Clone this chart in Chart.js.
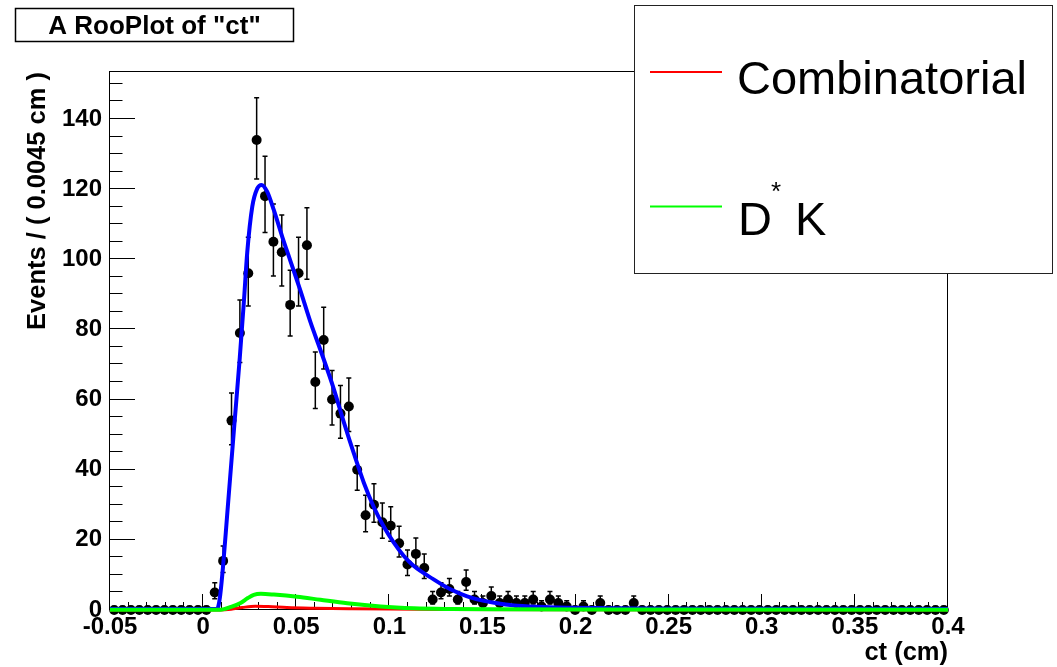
<!DOCTYPE html>
<html>
<head>
<meta charset="utf-8">
<script src="https://cdn.jsdelivr.net/npm/chart.js@4.4.1/dist/chart.umd.min.js"></script>
<style>
  html, body { margin: 0; padding: 0; background: #fff; }
  canvas { display: block; }
</style>
</head>
<body>
<canvas id="ct-plot" width="1057" height="667"></canvas>
<script>
// ct histogram: 100 bins of 0.0045 cm between -0.05 and 0.4
const binLow = -0.05;
const binWidth = 0.0045;
const counts = [
  0, 0, 0, 0, 0, 0, 0, 0, 0, 0,
  0, 0, 5, 14, 54, 79, 96, 134, 118, 105,
  102, 87, 96, 104, 65, 77, 60, 56, 58, 40,
  27, 30, 25, 24, 19, 13, 16, 12, 3, 5,
  6, 3, 8, 3, 2, 4, 2, 3, 2, 2,
  3, 1, 3, 2, 1, 0, 1, 0, 2, 0,
  0, 0, 2, 0, 0, 0, 0, 0, 0, 0,
  0, 0, 0, 0, 0, 0, 0, 0, 0, 0,
  0, 0, 0, 0, 0, 0, 0, 0, 0, 0,
  0, 0, 0, 0, 0, 0, 0, 0, 0, 0
];

// fitted curves, sampled along ct
const totalX = [-0.05, 0.0075, 0.0090, 0.0108, 0.0129, 0.0165, 0.0197, 0.0219, 0.0237, 0.0264,
  0.0291, 0.0314, 0.0344, 0.0380, 0.0425, 0.0469, 0.0523, 0.0577, 0.0631, 0.0702,
  0.0756, 0.0809, 0.0863, 0.0917, 0.0970, 0.1024, 0.1078, 0.1130, 0.1236, 0.1328,
  0.1418, 0.1508, 0.1597, 0.1687, 0.1866, 0.2135, 0.250, 0.4];
const totalY = [0.3, 0.3, 3.5, 13, 27, 51, 72, 88, 102, 115,
  120.2, 121.2, 119.3, 114, 106.4, 99.5, 91, 82, 74, 63,
  53.5, 44.7, 36.3, 29.3, 23.8, 19.2, 15.4, 12.6, 8.8, 5.9,
  3.9, 2.6, 1.8, 1.2, 0.8, 0.55, 0.35, 0.3];

const dkX = [-0.05, 0.0094, 0.0150, 0.0201, 0.0240, 0.0272, 0.0310, 0.0380, 0.0505, 0.0630,
  0.0774, 0.0953, 0.1132, 0.1330, 0.160, 0.200, 0.4];
const dkY = [0.1, 0.1, 0.9, 2.0, 3.4, 4.3, 4.6, 4.4, 3.8, 2.9,
  1.9, 1.0, 0.5, 0.3, 0.2, 0.15, 0.1];

const combX = [-0.05, 0.009, 0.015, 0.021, 0.028, 0.035, 0.045, 0.060, 0.080, 0.100, 0.130, 0.200, 0.4];
const combY = [0, 0, 0.2, 0.7, 1.1, 1.0, 0.7, 0.5, 0.35, 0.25, 0.15, 0.05, 0];

const xTickStep = 0.05;
const yTickStep = 20;
const legendLabels = ["Combinatorial", "D", "*", "K"];

const binCenters = counts.map((_, i) => binLow + binWidth * (i + 0.5));
const toPoints = (xs, ys) => xs.map((x, i) => ({ x: x, y: ys[i] }));

const FONT = "'Liberation Sans', Arial, Helvetica, sans-serif";

// frame plus inward major/minor ticks, ROOT style
const frameTicks = {
  id: "frameTicks",
  beforeDatasetsDraw(chart) {
    const { ctx, chartArea: a, scales: { x, y } } = chart;
    ctx.save();
    ctx.strokeStyle = "#000";
    ctx.lineWidth = 1;
    ctx.strokeRect(a.left - 0.5, a.top - 0.5, a.right - a.left, a.bottom - a.top);
    ctx.beginPath();
    for (let k = 0; k <= 45; k++) {
      const v = -0.05 + k * 0.01;
      const px = Math.round(x.getPixelForValue(v)) - 0.5;
      const len = k % 5 === 0 ? 16 : 8;
      ctx.moveTo(px, a.bottom);
      ctx.lineTo(px, a.bottom - len);
    }
    for (let v = 0; v <= y.max; v += 5) {
      const py = Math.round(y.getPixelForValue(v)) - 0.5;
      const len = v % 20 === 0 ? 25 : 12.5;
      ctx.moveTo(a.left, py);
      ctx.lineTo(a.left + len, py);
    }
    ctx.stroke();

    // error bars (Poisson-like, asymmetric) under the markers
    ctx.lineWidth = 1.5;
    ctx.beginPath();
    counts.forEach((n, i) => {
      const px = x.getPixelForValue(binCenters[i]);
      const s = Math.sqrt(n + 0.25);
      const top = y.getPixelForValue(n + s + 0.5);
      const bot = y.getPixelForValue(Math.max(n - s + 0.5, 0));
      ctx.moveTo(px, top);
      ctx.lineTo(px, bot);
      ctx.moveTo(px - 2.5, top);
      ctx.lineTo(px + 2.5, top);
      if (n > 0) {
        ctx.moveTo(px - 2.5, bot);
        ctx.lineTo(px + 2.5, bot);
      }
    });
    ctx.stroke();
    ctx.restore();
  },
};

// title box and legend box
const rootDecor = {
  id: "rootDecor",
  afterDraw(chart) {
    const { ctx } = chart;
    ctx.save();

    ctx.fillStyle = "#fff";
    ctx.fillRect(15, 8, 279, 34);
    ctx.strokeStyle = "#000";
    ctx.lineWidth = 1.5;
    ctx.strokeRect(15.5, 8.5, 278, 33);
    ctx.fillStyle = "#000";
    ctx.font = "bold 26px " + FONT;
    ctx.textAlign = "center";
    ctx.textBaseline = "middle";
    ctx.fillText('A RooPlot of "ct"', 154.5, 27);

    ctx.fillStyle = "#fff";
    ctx.fillRect(634, 5, 419, 269);
    ctx.strokeStyle = "#222";
    ctx.lineWidth = 1;
    ctx.strokeRect(634.5, 5.5, 418, 268);

    ctx.lineWidth = 2;
    ctx.strokeStyle = "#ff0000";
    ctx.beginPath();
    ctx.moveTo(650, 72);
    ctx.lineTo(722, 72);
    ctx.stroke();
    ctx.strokeStyle = "#00ff00";
    ctx.beginPath();
    ctx.moveTo(650, 206.5);
    ctx.lineTo(722, 206.5);
    ctx.stroke();

    ctx.fillStyle = "#000";
    ctx.textAlign = "left";
    ctx.textBaseline = "alphabetic";
    ctx.font = "47px " + FONT;
    ctx.fillText(legendLabels[0], 737, 94);
    ctx.fillText(legendLabels[1], 738, 235);
    ctx.fillText(legendLabels[3], 795, 235);
    ctx.font = "26px " + FONT;
    ctx.fillText(legendLabels[2], 771, 200);
    ctx.restore();
  },
};

const curve = (data, color, width, order) => ({
  data: data,
  showLine: true,
  borderColor: color,
  borderWidth: width,
  pointRadius: 0,
  cubicInterpolationMode: "monotone",
  clip: false,
  order: order,
});

new Chart(document.getElementById("ct-plot"), {
  type: "scatter",
  data: {
    datasets: [
      {
        data: binCenters.map((c, i) => ({ x: c, y: counts[i] })),
        backgroundColor: "#000",
        borderColor: "#000",
        pointRadius: 5,
        borderWidth: 0,
        clip: false,
        order: 4,
      },
      curve(toPoints(totalX, totalY), "#0000ff", 4, 3),
      curve(toPoints(combX, combY), "#ff0000", 3, 2),
      curve(toPoints(dkX, dkY), "#00ff00", 4, 1),
    ],
  },
  options: {
    responsive: false,
    animation: false,
    layout: { padding: { left: 0, right: 109, top: 72, bottom: 0 } },
    plugins: {
      legend: { display: false },
      tooltip: { enabled: false },
    },
    scales: {
      x: {
        type: "linear",
        position: "bottom",
        min: -0.05,
        max: 0.4,
        afterFit: (s) => { s.height = 57; },
        grid: { display: false, drawTicks: false },
        border: { display: false },
        ticks: {
          stepSize: xTickStep,
          includeBounds: false,
          autoSkip: false,
          maxRotation: 0,
          padding: 3,
          color: "#000",
          font: { family: FONT, size: 24, weight: "bold" },
          callback: (v) => String(Math.round(v * 100) / 100),
        },
        title: {
          display: true,
          text: "ct (cm)",
          align: "end",
          color: "#000",
          padding: { top: 0, bottom: 1 },
          font: { family: FONT, size: 25.5, weight: "bold", lineHeight: 1 },
        },
      },
      y: {
        type: "linear",
        min: 0,
        max: 153.4,
        afterFit: (s) => { s.width = 110; },
        grid: { display: false, drawTicks: false },
        border: { display: false },
        ticks: {
          stepSize: yTickStep,
          includeBounds: false,
          padding: 8,
          color: "#000",
          font: { family: FONT, size: 24, weight: "bold" },
        },
        title: {
          display: true,
          text: "Events / ( 0.0045 cm )",
          align: "end",
          color: "#000",
          padding: { top: 25, bottom: 0 },
          font: { family: FONT, size: 25.5, weight: "bold", lineHeight: 1 },
        },
      },
    },
  },
  plugins: [frameTicks, rootDecor],
});
</script>
</body>
</html>
